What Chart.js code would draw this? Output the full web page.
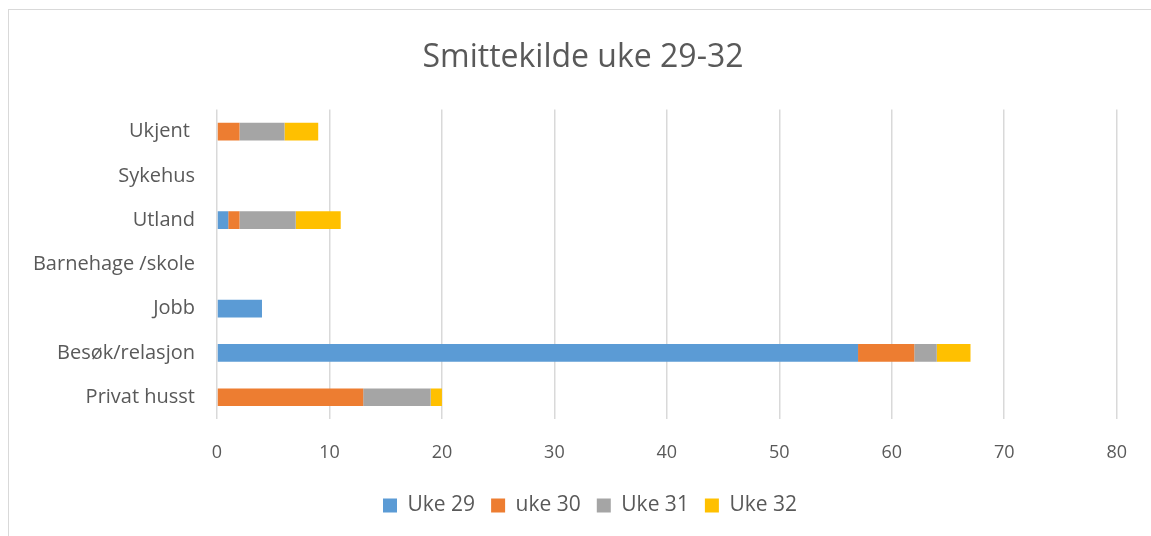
<!DOCTYPE html>
<html>
<head>
<meta charset="utf-8">
<script src="https://cdn.jsdelivr.net/npm/chart.js@4/dist/chart.umd.min.js"></script>
<style>
  body { margin: 0; background: #fff; }
  #frame {
    position: absolute; left: 8px; top: 9px;
    width: 1150px; height: 540px;
    border: 1px solid #d9d9d9; box-sizing: border-box;
  }
  #wrap { position: absolute; left: 0; top: 0; width: 1141px; height: 527px; }
</style>
</head>
<body>
<div id="frame"><div id="wrap"><canvas id="myChart"></canvas></div></div>
<script>
'use strict'

// ------------------------- Data -------------------------------------- //
const categories = ['Ukjent ', 'Sykehus', 'Utland', 'Barnehage /skole', 'Jobb', 'Besøk/relasjon', 'Privat husst'];
const seriesNames = ['Uke 29', 'uke 30', 'Uke 31', 'Uke 32'];
const uke29 = [0, 0, 1, 0, 4, 57, 0];
const uke30 = [2, 0, 1, 0, 0, 5, 13];
const uke31 = [4, 0, 5, 0, 0, 2, 6];
const uke32 = [3, 0, 4, 0, 0, 3, 1];
const xTicks = [0, 10, 20, 30, 40, 50, 60, 70, 80];
const colors = ['#5b9bd5', '#ed7d31', '#a5a5a5', '#ffc000'];

const fontFamily = "'Open Sans', 'Liberation Sans', sans-serif";
const textColor = '#595959';

// ------------------------- Chart -------------------------------------- //
const allSeries = [uke29, uke30, uke31, uke32];
let datasets = [];
for (let i = 0; i < allSeries.length; i++) {
    datasets.push({
        label: seriesNames[i],
        data: allSeries[i],
        backgroundColor: colors[i],
        borderWidth: 0,
        barPercentage: 0.4,
        categoryPercentage: 1.0
    });
}

// Excel centres title and legend a bit to the right of the canvas middle
const nudgeBoxes = {
    id: 'nudgeBoxes',
    afterLayout(chart) {
        chart.legend.left += 24;
        chart.legend.right += 24;
        chart.titleBlock.left += 17;
        chart.titleBlock.right += 17;
    }
};

const ctx = document.getElementById('myChart').getContext('2d');
const myChart = new Chart(ctx, {
    type: 'bar',
    data: { labels: categories, datasets: datasets },
    plugins: [nudgeBoxes],
    options: {
        indexAxis: 'y',
        responsive: true,
        maintainAspectRatio: false,
        animation: false,
        layout: { padding: { left: 0, right: 27, top: 14, bottom: 11 } },
        scales: {
            x: {
                stacked: true,
                min: 0,
                max: 80,
                afterBuildTicks: function (scale) {
                    scale.ticks = xTicks.map(v => ({ value: v }));
                },
                afterFit: function (scale) { scale.height = scale.height - 8; },
                grid: { color: '#d9d9d9', lineWidth: 1.5, drawTicks: false },
                border: { display: false },
                ticks: { color: textColor, padding: 23, font: { family: fontFamily, size: 18 } }
            },
            y: {
                stacked: true,
                grid: { display: false, drawTicks: false },
                border: { display: false },
                afterFit: function (scale) { scale.width = 208; },
                ticks: { color: textColor, padding: 22, font: { family: fontFamily, size: 20 } }
            }
        },
        plugins: {
            title: {
                display: true,
                text: 'Smittekilde uke 29-32',
                color: textColor,
                font: { family: fontFamily, size: 32, weight: 'normal' },
                padding: { top: 15, bottom: 32 }
            },
            legend: {
                position: 'bottom',
                labels: {
                    color: textColor,
                    boxWidth: 14,
                    boxHeight: 14,
                    padding: 16,
                    font: { family: fontFamily, size: 21 }
                }
            },
            tooltip: { enabled: false }
        }
    }
});
</script>
</body>
</html>
